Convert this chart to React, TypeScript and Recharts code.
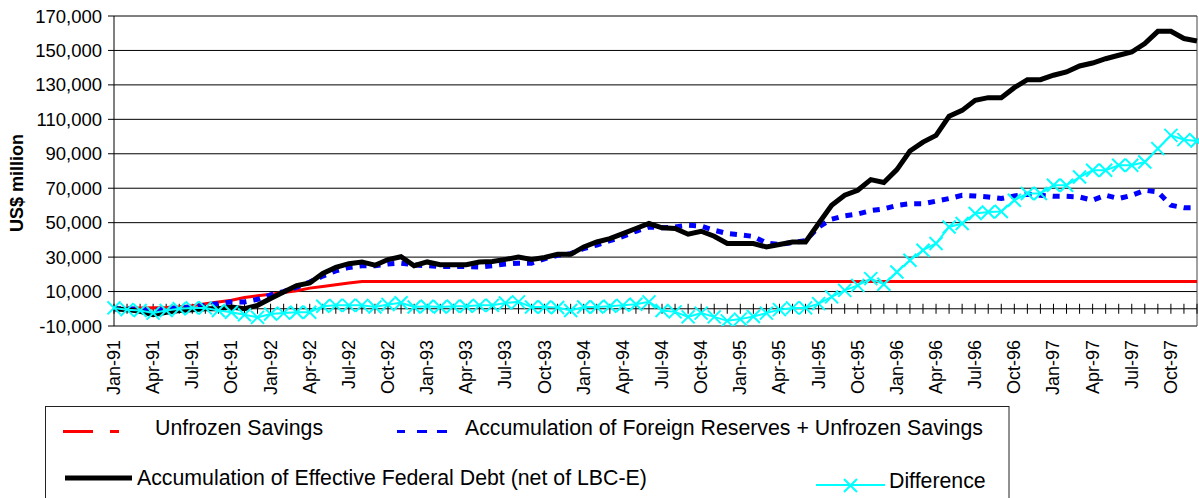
import React from "react";
import {
  LineChart,
  Line,
  XAxis,
  YAxis,
  CartesianGrid,
  ReferenceLine,
} from "recharts";

const monthNames = ["Jan", "Feb", "Mar", "Apr", "May", "Jun", "Jul", "Aug", "Sep", "Oct", "Nov", "Dec"];
const years = ["91", "92", "93", "94", "95", "96", "97"];

// US$ million, monthly Jan-91 .. Dec-97
const unfrozenSavings = [
  0, 300, 500, 600, 800, 1200, 1800, 3000, 4000, 5000, 6500, 7500,
  8500, 9500, 10500, 12000, 13000, 14000, 15000, 15800, 15800, 15800, 15800, 15800,
  15800, 15800, 15800, 15800, 15800, 15800, 15800, 15800, 15800, 15800, 15800, 15800,
  15800, 15800, 15800, 15800, 15800, 15800, 15800, 15800, 15800, 15800, 15800, 15800,
  15800, 15800, 15800, 15800, 15800, 15800, 15800, 15800, 15800, 15800, 15800, 15800,
  15800, 15800, 15800, 15800, 15800, 15800, 15800, 15800, 15800, 15800, 15800, 15800,
  15800, 15800, 15800, 15800, 15800, 15800, 15800, 15800, 15800, 15800, 15800, 15800,
];

const reservesPlusSavings = [
  0, 0, -500, -1000, 0, 500, 1000, 2000, 3000, 4000, 4000, 5500,
  8000, 10000, 12500, 15500, 19000, 22000, 24000, 25000, 25000, 26000, 26500, 25500,
  25000, 24500, 24500, 24500, 24300, 25000, 26000, 26500, 26500, 29000, 31000, 32000,
  35000, 37000, 39500, 42000, 45000, 47500, 47000, 47500, 48500, 48000, 45600, 43700,
  43000, 42000, 38200, 37300, 38500, 39500, 47500, 52000, 54000, 55000, 57000, 58000,
  60000, 61000, 61000, 62500, 64000, 65900, 65500, 64900, 64000, 65500, 66500, 65900,
  65300, 65300, 64900, 63000, 65900, 64000, 65900, 68800, 67900, 60100, 58700, 58700,
];

const federalDebt = [
  0, -500, -1500, -3500, -2000, -1000, -500, 0, 0, 1000, 0, 2000,
  6000, 9800, 13500, 15000, 20500, 24000, 26200, 27200, 25300, 28600, 30200, 25000,
  27200, 25600, 25600, 25600, 27200, 27500, 28700, 30000, 28700, 29800, 31600, 31600,
  35900, 38800, 40700, 43600, 46600, 49500, 47000, 46600, 43300, 45000, 42100, 37900,
  37900, 37900, 35900, 37300, 38800, 38800, 49500, 60100, 65900, 68800, 75000, 73300,
  80800, 91600, 96800, 100700, 111800, 115200, 121000, 122600, 122600, 128400, 133000, 133000,
  135600, 137500, 141000, 142700, 145200, 147200, 149100, 154000, 161100, 161100, 156900, 155500,
];

const difference = [
  500, -500, -1000, -2500, -1000, 0, 500, 500, -1000, -2000, -3500, -5000,
  -3000, -2500, -2000, -2000, 1500, 2000, 2000, 2000, 1000, 2500, 3500, 1000,
  1500, 1000, 1500, 1500, 2000, 2000, 3400, 4000, 1000, 1000, 700, -1000,
  1000, 1000, 1500, 2000, 2600, 4000, -1000, -1800, -4700, -2500, -4700, -7000,
  -6000, -4500, -2500, -500, 500, 500, 3000, 6900, 10700, 13600, 17500, 14200,
  21400, 28200, 34000, 37900, 47500, 49500, 55300, 56200, 56500, 63000, 66900, 66900,
  71700, 71700, 76500, 80400, 80400, 83300, 83300, 85200, 93000, 100700, 98200, 97400,
];

const yTicks = [-10000, 10000, 30000, 50000, 70000, 90000, 110000, 130000, 150000, 170000];

const months: string[] = [];
years.forEach((y) => monthNames.forEach((m) => months.push(`${m}-${y}`)));

const data = months.map((month, i) => ({
  month,
  unfrozen: unfrozenSavings[i],
  reserves: reservesPlusSavings[i],
  debt: federalDebt[i],
  diff: difference[i],
}));

const FONT = '"Liberation Sans", Arial, sans-serif';

const MonthTick = ({ x, y, payload }: any) => (
  <text
    x={x}
    y={y}
    transform={`rotate(-90, ${x}, ${y})`}
    textAnchor="end"
    dominantBaseline="central"
    fontSize={18}
    fill="#000"
    fontFamily={FONT}
  >
    {payload.value}
  </text>
);

// zero axis with a tick mark at every month
const ZeroAxis = (props: any) => {
  const { x1, x2, y1 } = props;
  const step = (x2 - x1) / (months.length - 1);
  return (
    <g>
      <line x1={x1} x2={x2} y1={y1} y2={y1} stroke="#000" strokeWidth={1} />
      {months.map((m, i) => (
        <line
          key={m}
          x1={x1 + i * step}
          x2={x1 + i * step}
          y1={y1 - 5}
          y2={y1 + 5}
          stroke="#000"
          strokeWidth={1}
        />
      ))}
    </g>
  );
};

const CrossDot = ({ cx, cy, index }: any) => {
  if (cx == null || cy == null) return null;
  const s = 6.5;
  return (
    <path
      key={`x-${index}`}
      d={`M${cx - s},${cy - s}L${cx + s},${cy + s}M${cx - s},${cy + s}L${cx + s},${cy - s}`}
      stroke="#00FFFF"
      strokeWidth={2}
      fill="none"
    />
  );
};

const Legend = () => (
  <svg
    width={1199}
    height={498}
    style={{ position: "absolute", left: 0, top: 0, pointerEvents: "none" }}
    fontFamily={FONT}
  >
    <text
      x={17}
      y={183}
      transform="rotate(-90, 17, 183)"
      textAnchor="middle"
      dominantBaseline="central"
      fontSize={18}
      fontWeight="bold"
      fill="#000"
    >
      US$ million
    </text>
    <rect x={45.5} y={406.5} width={963.5} height={120} fill="#fff" stroke="#222" strokeWidth={1} />
    <path d="M63,431.5H93M110,431.5H119" stroke="#FF0000" strokeWidth={3} />
    <text x={155} y={435} fontSize={21.3} fill="#000">Unfrozen Savings</text>
    <path d="M397,431.5H405M417,431.5H427M437,431.5H447" stroke="#0000FF" strokeWidth={3} />
    <text x={465} y={435} fontSize={21.3} fill="#000">
      Accumulation of Foreign Reserves + Unfrozen Savings
    </text>
    <path d="M65,478H132" stroke="#000" strokeWidth={5} />
    <text x={137} y={485} fontSize={21.3} fill="#000">
      Accumulation of Effective Federal Debt (net of LBC-E)
    </text>
    <path d="M816,485H885" stroke="#00FFFF" strokeWidth={2} />
    <path d="M844,479L857,492M844,492L857,479" stroke="#00FFFF" strokeWidth={2} />
    <text x={889} y={488} fontSize={21.3} fill="#000">Difference</text>
  </svg>
);

export default function App() {
  return (
    <div
      style={{
        position: "absolute",
        left: 0,
        top: 0,
        width: 1199,
        height: 498,
        background: "#fff",
        fontFamily: FONT,
      }}
    >
      <LineChart
        width={1199}
        height={498}
        data={data}
        margin={{ top: 16, right: 2, bottom: 0, left: 0 }}
      >
        <CartesianGrid vertical={false} stroke="#000" />
        <XAxis
          dataKey="month"
          interval={2}
          height={172}
          tickLine={false}
          axisLine={false}
          tickSize={0}
          tickMargin={14}
          tick={<MonthTick />}
        />
        <YAxis
          type="number"
          domain={[-10000, 170000]}
          ticks={yTicks}
          width={114}
          allowDataOverflow
          tickSize={6}
          tickMargin={6}
          tick={{ fill: "#000", fontSize: 18.5, fontFamily: FONT }}
          tickLine={{ stroke: "#000" }}
          axisLine={{ stroke: "#000" }}
          tickFormatter={(v: number) => v.toLocaleString("en-US")}
        />
        <ReferenceLine x={months[months.length - 1]} stroke="#444" />
        <ReferenceLine y={0} shape={<ZeroAxis />} />
        <Line
          type="linear"
          dataKey="unfrozen"
          stroke="#FF0000"
          strokeWidth={3}
          dot={false}
          isAnimationActive={false}
        />
        <Line
          type="linear"
          dataKey="reserves"
          stroke="#0000FF"
          strokeWidth={5}
          strokeDasharray="7 7"
          dot={false}
          isAnimationActive={false}
        />
        <Line
          type="linear"
          dataKey="debt"
          stroke="#000"
          strokeWidth={5}
          dot={false}
          isAnimationActive={false}
        />
        <Line
          type="linear"
          dataKey="diff"
          stroke="#00FFFF"
          strokeWidth={2}
          dot={<CrossDot />}
          isAnimationActive={false}
        />
      </LineChart>
      <Legend />
    </div>
  );
}
